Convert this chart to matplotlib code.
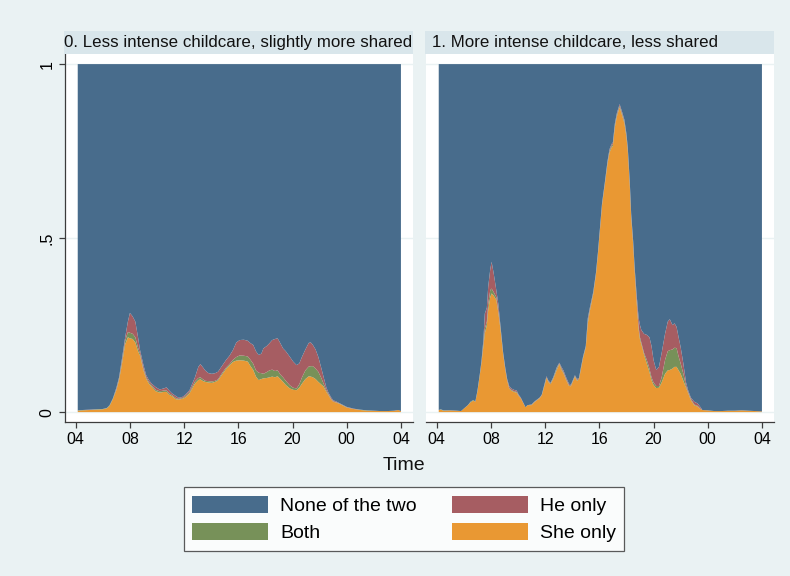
import matplotlib
matplotlib.use("Agg")
import matplotlib.pyplot as plt
import numpy as np

plt.rcParams['font.family'] = ['Liberation Sans', 'DejaVu Sans']

# ---------------- data ----------------
panel_titles = ["0. Less intense childcare, slightly more shared",
                "1. More intense childcare, less shared"]
series_names = ["None of the two", "He only", "Both", "She only"]
x_ticks = [4, 8, 12, 16, 20, 24, 28]
x_ticklabels = ["04", "08", "12", "16", "20", "00", "04"]
y_ticks = [0, 0.5, 1]
y_ticklabels = ["0", ".5", "1"]

# Panel 0: hours, cumulative tops (he_top = she+both+he, both_top = she+both, she_top = she)
p0_hours = [4.15, 4.5, 5.0, 5.5, 6.0, 6.3, 6.5, 6.75, 7.0, 7.2, 7.4, 7.65, 7.85, 8.0, 8.2, 8.4, 8.6,
            8.75, 9.0, 9.2, 9.4, 9.6, 9.9, 10.2, 10.5, 10.7, 10.9, 11.1, 11.4, 11.6, 11.85, 12.07,
            12.4, 12.8, 13.05, 13.2, 13.4, 13.55, 13.8, 14.05, 14.3, 14.5, 14.8, 15.1, 15.35, 15.6,
            15.85, 16.1, 16.4, 16.7, 16.9, 17.1, 17.3, 17.5, 17.7, 17.85, 18.1, 18.3, 18.5, 18.7,
            18.9, 19.1, 19.3, 19.5, 19.8, 20.05, 20.3, 20.5, 20.7, 20.95, 21.2, 21.35, 21.5, 21.7,
            21.9, 22.1, 22.3, 22.5, 22.65, 22.85, 23.0, 23.25, 23.5, 23.75, 24.0, 24.5, 25.0, 25.5,
            26.0, 26.5, 27.0, 27.5, 27.8, 28.0]
p0_he_top = [.005, .006, .007, .008, .009, .012, .02, .04, .07, .10, .15, .215, .26, .285, .275, .26, .215,
             .178, .135, .106, .092, .082, .072, .065, .068, .071, .062, .054, .046, .041, .043, .049,
             .063, .10, .13, .138, .128, .12, .112, .11, .112, .116, .133, .15, .162, .178,
             .20, .207, .208, .205, .198, .193, .175, .164, .168, .183, .19, .198, .207, .21,
             .212, .198, .183, .175, .159, .145, .135, .14, .159, .18, .199, .20, .193, .18,
             .159, .13, .10, .07, .056, .042, .034, .03, .025, .02, .015, .01, .007, .005,
             .004, .003, .003, .004, .006, .003]
p0_both_top = [.005, .006, .006, .008, .009, .012, .02, .04, .066, .096, .142, .205, .23, .228, .225, .215, .185,
               .168, .125, .10, .086, .077, .064, .06, .062, .062, .054, .049, .04, .038, .04, .045,
               .058, .088, .098, .10, .094, .09, .089, .088, .09, .094, .112, .128, .138, .15,
               .158, .163, .162, .16, .15, .139, .12, .113, .112, .11, .115, .12, .122, .118,
               .12, .108, .10, .09, .077, .07, .068, .08, .10, .12, .131, .132, .132, .125,
               .116, .10, .081, .062, .052, .038, .031, .028, .024, .019, .014, .009, .007, .005,
               .004, .003, .003, .004, .006, .003]
p0_she_top = [.004, .005, .006, .007, .008, .011, .018, .038, .063, .092, .135, .195, .215, .212, .21, .20, .175,
              .162, .12, .096, .082, .073, .06, .056, .058, .058, .05, .046, .037, .036, .038, .042,
              .054, .082, .092, .094, .089, .087, .085, .084, .087, .091, .108, .124, .134, .144,
              .148, .149, .148, .145, .132, .121, .102, .092, .095, .097, .098, .10, .102, .10,
              .103, .095, .087, .078, .068, .064, .063, .07, .082, .095, .103, .102, .10, .095,
              .087, .08, .073, .058, .049, .036, .03, .027, .023, .018, .013, .009, .006, .004,
              .004, .003, .003, .004, .006, .003]

p1_hours = [4.15, 4.3, 4.5, 5.0, 5.5, 5.8, 6.0, 6.3, 6.5, 6.7, 6.85, 7.0, 7.15, 7.3, 7.45, 7.55, 7.7,
            7.8, 7.95, 8.05, 8.2, 8.4, 8.55, 8.7, 8.9, 9.05, 9.2, 9.35, 9.5, 9.7, 9.9, 10.05, 10.2,
            10.4, 10.55, 10.7, 11.0, 11.2, 11.4, 11.6, 11.75, 11.95, 12.1, 12.25, 12.4, 12.6, 12.85,
            13.05, 13.2, 13.35, 13.55, 13.75, 13.9, 14.05, 14.2, 14.35, 14.5, 14.65, 14.8, 15.0,
            15.15, 15.3, 15.55, 15.75, 15.9, 16.05, 16.2, 16.4, 16.6, 16.75, 16.9, 17.0, 17.15,
            17.3, 17.5, 17.7, 17.85, 18.0, 18.1, 18.25, 18.35, 18.5, 18.6, 18.75, 18.9, 19.0, 19.1,
            19.3, 19.5, 19.7, 19.85, 20.0, 20.2, 20.4, 20.6, 20.85, 21.05, 21.2, 21.4, 21.55, 21.7,
            21.85, 22.0, 22.2, 22.4, 22.55, 22.75, 23.0, 23.25, 23.45, 23.6, 24.0, 24.5, 25.0, 25.5,
            26.0, 26.5, 27.0, 27.5, 28.0]
p1_he_top = [.006, .008, .005, .005, .004, .003, .01, .02, .03, .035, .03, .06, .10, .145, .21, .283, .30,
             .36, .41, .432, .40, .35, .31, .25, .172, .13, .095, .075, .068, .064, .062, .05, .042,
             .026, .014, .02, .022, .03, .036, .042, .05, .08, .103, .09, .084, .10, .128,
             .142, .13, .12, .10, .082, .078, .092, .106, .095, .098, .13, .16, .19,
             .27, .30, .345, .40, .46, .53, .60, .658, .72, .755, .77, .775, .83,
             .86, .885, .86, .84, .80, .76, .66, .57, .49, .42, .34, .27, .25, .236,
             .225, .222, .215, .19, .15, .121, .13, .17, .225, .26, .267, .25, .255, .245,
             .215, .187, .14, .085, .063, .042, .03, .025, .015, .006, .005, .003, .003, .004,
             .004, .005, .004, .003, .002]
p1_both_top = [.006, .008, .005, .005, .004, .003, .01, .02, .03, .035, .03, .06, .10, .142, .20, .24, .26,
               .31, .35, .355, .345, .33, .29, .245, .17, .126, .092, .07, .064, .06, .058, .048, .04,
               .025, .014, .02, .021, .029, .035, .041, .049, .078, .10, .088, .082, .098, .125,
               .14, .126, .115, .095, .078, .076, .09, .104, .092, .096, .128, .158, .188,
               .262, .295, .342, .397, .457, .527, .597, .655, .716, .75, .765, .77, .825,
               .855, .88, .855, .835, .795, .755, .655, .565, .485, .415, .325, .245, .215, .20,
               .17, .15, .125, .10, .085, .075, .075, .10, .15, .175, .178, .18, .185, .184,
               .16, .14, .11, .075, .058, .038, .022, .018, .01, .006, .005, .003, .003, .004,
               .004, .005, .004, .003, .002]
p1_she_top = [.006, .007, .004, .005, .004, .003, .01, .02, .028, .033, .03, .058, .098, .14, .19, .226, .25,
              .293, .33, .341, .335, .322, .285, .24, .167, .124, .09, .068, .062, .058, .056, .046, .04,
              .025, .014, .02, .02, .028, .034, .04, .048, .075, .098, .086, .08, .095, .12,
              .138, .122, .112, .092, .076, .074, .088, .102, .09, .094, .125, .155, .185,
              .255, .29, .338, .394, .454, .525, .594, .652, .712, .745, .76, .765, .82,
              .85, .876, .85, .83, .79, .75, .65, .56, .48, .41, .318, .238, .208, .195,
              .165, .14, .115, .092, .078, .069, .07, .085, .11, .12, .121, .125, .13, .13,
              .12, .11, .09, .07, .055, .035, .02, .016, .009, .006, .005, .003, .003, .004,
              .004, .005, .004, .003, .002]

colors = {"None of the two": "#486C8C", "He only": "#A65D62",
          "Both": "#779159", "She only": "#E99833"}

BG = "#EAF2F3"
STRIP = "#D9E6EB"
AXC = "#3C3C3C"

W, H = 790, 576
fig = plt.figure(figsize=(W / 100, H / 100), dpi=100, facecolor=BG)

def fx(px):
    return px / W

def fy(py):
    return 1 - py / H

ax_top, ax_bot = 54, 421.5
panels = [(65, 413), (426, 774)]
strip_top, strip_bot = 31, 53.5

datasets = [(p0_hours, p0_she_top, p0_both_top, p0_he_top),
            (p1_hours, p1_she_top, p1_both_top, p1_he_top)]

axes = []
for i, ((l, r), (hrs, st, bt, ht)) in enumerate(zip(panels, datasets)):
    ax = fig.add_axes([fx(l), fy(ax_bot), (r - l) / W, (ax_bot - ax_top) / H])
    ax.set_facecolor("white")
    hrs = np.array(hrs)
    st = np.array(st); bt = np.array(bt); ht = np.array(ht)
    she = st
    both = bt - st
    he = ht - bt
    none = 1 - ht
    ax.stackplot(hrs, she, both, he, none,
                 colors=[colors["She only"], colors["Both"], colors["He only"], colors["None of the two"]],
                 linewidth=0, zorder=2)
    for yv in y_ticks:
        ax.axhline(yv, color=BG, lw=1.0, zorder=1)
    ax.set_xlim(3.21, 28.89)
    ax.set_ylim(-0.027, 1.029)
    ax.set_xticks(x_ticks)
    ax.set_xticklabels(x_ticklabels, fontsize=11.5)
    ax.tick_params(axis='x', direction='out', length=4.5, width=0.9, color=AXC, pad=3)
    for s in ['top', 'right']:
        ax.spines[s].set_visible(False)
    ax.spines['bottom'].set_color(AXC)
    ax.spines['bottom'].set_linewidth(0.9)
    if i == 0:
        ax.spines['left'].set_color(AXC)
        ax.spines['left'].set_linewidth(0.9)
        ax.set_yticks(y_ticks)
        ax.set_yticklabels(y_ticklabels, fontsize=11.5, rotation=90, va='center')
        ax.tick_params(axis='y', direction='out', length=4.5, width=0.9, color=AXC, pad=3)
    else:
        ax.spines['left'].set_visible(False)
        ax.set_yticks([])
    axes.append(ax)
    # strip
    fig.patches.append(plt.Rectangle((fx(l - 1), fy(strip_bot)), (r - l + 1) / W,
                                     (strip_bot - strip_top) / H, transform=fig.transFigure,
                                     facecolor=STRIP, edgecolor='none', zorder=0))
    tx = 64 if i == 0 else 432
    fig.text(fx(tx), fy((strip_top + strip_bot) / 2 + 0.5), panel_titles[i], fontsize=12.2,
             ha='left', va='center', color='#111111')

fig.text(fx(404), fy(465), "Time", fontsize=14, ha='center', va='center', color='#111111')

handles = [plt.Rectangle((0, 0), 1, 1, facecolor=colors[n], edgecolor='none') for n in
           ["None of the two", "Both", "He only", "She only"]]
labels = ["None of the two", "Both", "He only", "She only"]
leg = fig.legend(handles, labels, ncol=2, loc='center', bbox_to_anchor=(fx(404), fy(519)),
                 fontsize=14, frameon=True, fancybox=False, edgecolor='#333333',
                 handlelength=3.9, handleheight=1.0, handletextpad=0.62, columnspacing=1.8,
                 labelspacing=0.42, borderpad=0.45, borderaxespad=0)
leg.get_frame().set_linewidth(0.9)
leg.get_frame().set_facecolor('white')

fig.savefig("out.png", dpi=100, facecolor=BG)
